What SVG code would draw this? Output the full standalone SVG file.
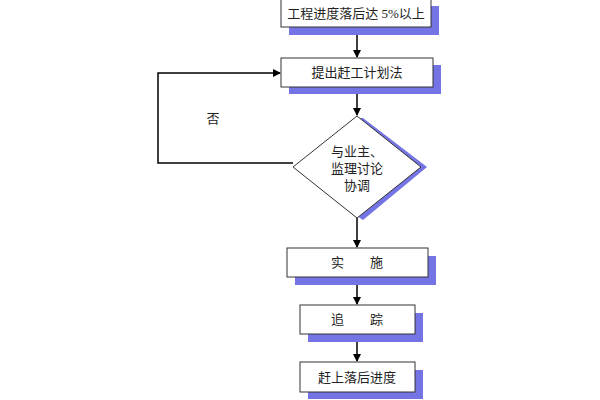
<svg xmlns="http://www.w3.org/2000/svg" width="600" height="400" viewBox="0 0 600 400">
<style>
.b{fill:#fff;stroke:#333;stroke-width:1}
.s{fill:#7474e4}
.t{font-family:"Liberation Serif","Noto Sans CJK SC",serif;font-size:13px;fill:#222;text-anchor:middle}
.c{stroke:#000;stroke-width:1.5;fill:none}
</style>
<defs><marker id="a" markerWidth="8" markerHeight="8" refX="7" refY="4" orient="auto" markerUnits="userSpaceOnUse"><path d="M0,0L8,4L0,8z" fill="#000"/></marker></defs>
<rect width="600" height="400" fill="#fff"/>
<g id="connectors">
<line class="c" x1="357" y1="27" x2="357" y2="57" marker-end="url(#a)"/>
<line class="c" x1="357" y1="87" x2="357" y2="115" marker-end="url(#a)"/>
<line class="c" x1="357" y1="218" x2="357" y2="247" marker-end="url(#a)"/>
<line class="c" x1="357" y1="277" x2="357" y2="304" marker-end="url(#a)"/>
<line class="c" x1="357" y1="334" x2="357" y2="361" marker-end="url(#a)"/>
<polyline class="c" points="293,163 158,163 158,73 280,73" marker-end="url(#a)"/>
<text class="t" x="213" y="123">否</text>
</g>
<g id="n1"><rect class="s" x="289" y="6" width="150" height="29"/><rect class="b" x="281" y="-2" width="150" height="29"/><text class="t" x="356" y="18">工程进度落后达 5%以上</text></g>
<g id="n2"><rect class="s" x="289" y="65" width="152" height="29"/><rect class="b" x="281" y="58" width="152" height="29"/><text class="t" x="357" y="77">提出赶工计划法</text></g>
<g id="n3"><polygon class="s" points="363,118 427,167 363,220 357,216 420,167 357,118"/><polygon class="b" points="357,116 421,167 357,218 293,167"/><text class="t" x="357" y="156">与业主、</text><text class="t" x="357" y="173">监理讨论</text><text class="t" x="357" y="190">协调</text></g>
<g id="n4"><rect class="s" x="295" y="256" width="141" height="29"/><rect class="b" x="287" y="248" width="141" height="29"/><text class="t" x="357" y="267">实　　施</text></g>
<g id="n5"><rect class="s" x="308" y="313" width="115" height="29"/><rect class="b" x="300" y="305" width="115" height="29"/><text class="t" x="357" y="324">追　　踪</text></g>
<g id="n6"><rect class="s" x="308" y="370" width="115" height="29"/><rect class="b" x="300" y="362" width="115" height="30"/><text class="t" x="357" y="382">赶上落后进度</text></g>
</svg>
